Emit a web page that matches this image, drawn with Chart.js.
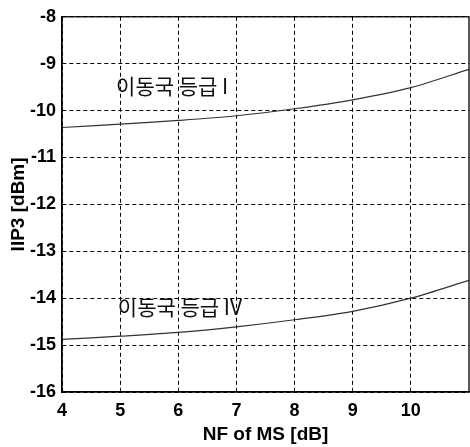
<!DOCTYPE html>
<html lang="ko">
<head>
  <meta charset="UTF-8" />
  <title>IIP3 vs NF of MS</title>
  <script src="https://cdn.jsdelivr.net/npm/chart.js"></script>
  <style>
    * { margin: 0; padding: 0; box-sizing: border-box; }
    body { background: #ffffff; }
    #wrap { width: 470px; height: 447px; }
  </style>
</head>
<body>
  <div id="wrap"><canvas id="grafico" width="470" height="447"></canvas></div>

  <script>
    // dados
    const nfValues = [4, 5, 6, 7, 8, 9, 10, 11];
    const iip3Class1 = [-10.36, -10.29, -10.21, -10.11, -9.96, -9.77, -9.51, -9.12];
    const iip3Class4 = [-14.88, -14.81, -14.73, -14.61, -14.46, -14.28, -14.0, -13.62];

    const xTicks = [4, 5, 6, 7, 8, 9, 10];
    const yTicks = [-16, -15, -14, -13, -12, -11, -10, -9, -8];

    // rótulos dentro do gráfico (coordenadas nos eixos)
    const noteTexts = ['이동국 등급 I', '이동국 등급 IV'];
    const noteX = [4.93, 4.96];
    const noteY = [-9.48, -14.18];

    const tickFont = { family: "'Liberation Sans', Arial, sans-serif", size: 18, weight: 'bold' };
    const titleFont = { family: "'Liberation Sans', Arial, sans-serif", size: 19, weight: 'bold' };

    // moldura sólida em volta da área do gráfico + textos
    const extras = {
      id: 'extras',
      afterDatasetsDraw(chart) {
        const { ctx, chartArea: a, scales } = chart;
        ctx.save();
        ctx.strokeStyle = '#000';
        ctx.lineWidth = 1.3;
        ctx.setLineDash([]);
        ctx.strokeRect(a.left, a.top, a.right - a.left, a.bottom - a.top);

        ctx.fillStyle = '#111';
        ctx.font = "21px 'Noto Sans CJK KR', sans-serif";
        ctx.textAlign = 'left';
        ctx.textBaseline = 'middle';
        noteTexts.forEach((t, i) => {
          ctx.fillText(t, scales.x.getPixelForValue(noteX[i]), scales.y.getPixelForValue(noteY[i]));
        });
        ctx.restore();
      }
    };

    const ctx = document.getElementById('grafico').getContext('2d');
    new Chart(ctx, {
      type: 'line',
      data: {
        datasets: [
          {
            label: '이동국 등급 I',
            data: nfValues.map((v, i) => ({ x: v, y: iip3Class1[i] })),
            borderColor: '#333',
            borderWidth: 1.2,
            pointRadius: 0,
            tension: 0.3,
          },
          {
            label: '이동국 등급 IV',
            data: nfValues.map((v, i) => ({ x: v, y: iip3Class4[i] })),
            borderColor: '#333',
            borderWidth: 1.2,
            pointRadius: 0,
            tension: 0.3,
          },
        ],
      },
      options: {
        responsive: false,
        animation: false,
        layout: { padding: { top: 15, right: 1, left: 0, bottom: 0 } },
        plugins: { legend: { display: false }, tooltip: { enabled: false } },
        scales: {
          x: {
            type: 'linear',
            min: 4,
            max: 11,
            afterBuildTicks: (s) => { s.ticks = xTicks.map((v) => ({ value: v })); },
            afterFit: (s) => { s.height = 55; },
            ticks: { color: '#000', font: tickFont, padding: 8 },
            grid: { color: '#000', lineWidth: 1, drawTicks: false },
            border: { color: '#000', width: 1.3, dash: [4, 3] },
            title: {
              display: true,
              text: 'NF of MS [dB]',
              color: '#000',
              font: titleFont,
              padding: { top: 0, bottom: 1 },
            },
          },
          y: {
            type: 'linear',
            min: -16,
            max: -8,
            afterBuildTicks: (s) => { s.ticks = yTicks.map((v) => ({ value: v })); },
            afterFit: (s) => { s.width = 62; },
            ticks: { color: '#000', font: tickFont, padding: 6 },
            grid: { color: '#000', lineWidth: 1, drawTicks: false },
            border: { color: '#000', width: 1.3, dash: [4, 3] },
            title: {
              display: true,
              text: 'IIP3 [dBm]',
              color: '#000',
              font: titleFont,
              padding: { top: 7, bottom: 0 },
            },
          },
        },
      },
      plugins: [extras],
    });
  </script>
</body>
</html>
